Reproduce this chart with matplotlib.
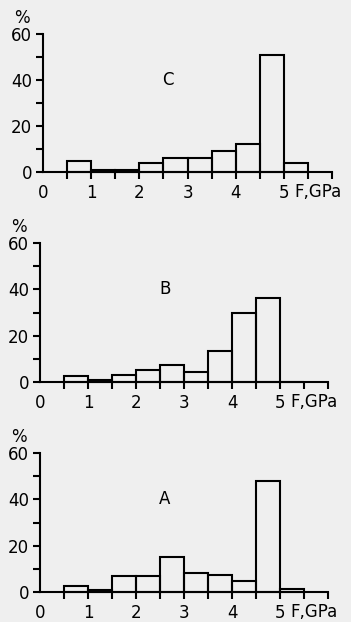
import matplotlib
matplotlib.use("Agg")
import matplotlib.pyplot as plt
from matplotlib.ticker import MultipleLocator

bin_left = [0.5, 1.0, 1.5, 2.0, 2.5, 3.0, 3.5, 4.0, 4.5, 5.0]
values_C = [5, 1, 1, 4, 6, 6, 9, 12, 51, 4]
values_B = [2.5, 1, 3, 5.3, 7.5, 4.3, 13.5, 30, 36.3, 0]
values_A = [2.5, 1, 7, 7, 15, 8.2, 7.2, 4.6, 48, 1.2]
panel_labels = ["C", "B", "A"]
x_tick_labels = ["0", "1", "2", "3", "4", "5"]
y_tick_labels = ["0", "20", "40", "60"]
x_unit = "F,GPa"
y_unit = "%"

bg = "#efefef"
plt.rcParams['font.family'] = ['DejaVu Sans']
W, H = 351, 622
fig = plt.figure(figsize=(W / 100, H / 100), dpi=100, facecolor=bg)

# (left px, bottom px from top, top px from top)
layout = [(43, 172, 34, 332), (40, 382, 243, 328), (40, 592, 453, 328)]
series = [values_C, values_B, values_A]

for (lx, by, ty, rx), vals, lab in zip(layout, series, panel_labels):
    ax = fig.add_axes([lx / W, 1 - by / H, (rx - lx) / W, (by - ty) / H])
    ax.set_facecolor(bg)
    ax.patch.set_alpha(0)
    ax.set_xlim(0, 6.0)
    ax.set_ylim(0, 60)
    ax.bar(bin_left, vals, width=0.5, align='edge', facecolor='none',
           edgecolor='black', linewidth=1.5, clip_on=False, zorder=3)
    for s in ['top', 'right']:
        ax.spines[s].set_visible(False)
    for s in ['left', 'bottom']:
        ax.spines[s].set_linewidth(1.5)
    ax.set_yticks([0, 20, 40, 60])
    ax.set_yticklabels(y_tick_labels)
    ax.yaxis.set_minor_locator(MultipleLocator(10))
    ax.set_xticks([0, 1, 2, 3, 4, 5])
    ax.set_xticklabels(x_tick_labels)
    ax.xaxis.set_minor_locator(MultipleLocator(0.5))
    ax.tick_params(axis='y', which='both', direction='out', length=5, width=1.5,
                   labelsize=12, pad=3)
    ax.tick_params(axis='x', which='both', direction='out', length=5, width=1.5,
                   labelsize=12, pad=4)
    ax.tick_params(axis='x', which='major', length=5)
    ax.xaxis.get_major_ticks()[0].tick1line.set_visible(False)
    ax.text(2.6, 40, lab, ha='center', va='center', fontsize=12)
    ax.annotate(y_unit, xy=(0, 60), xycoords='data', xytext=(-21, 16),
                textcoords='offset pixels', ha='center', va='center', fontsize=12,
                annotation_clip=False)
    ax.annotate(x_unit, xy=(5.22, 0), xycoords='data', xytext=(0, -11),
                textcoords='offset pixels', ha='left', va='top', fontsize=12,
                annotation_clip=False)

fig.savefig("out.png", dpi=100, facecolor=bg)
